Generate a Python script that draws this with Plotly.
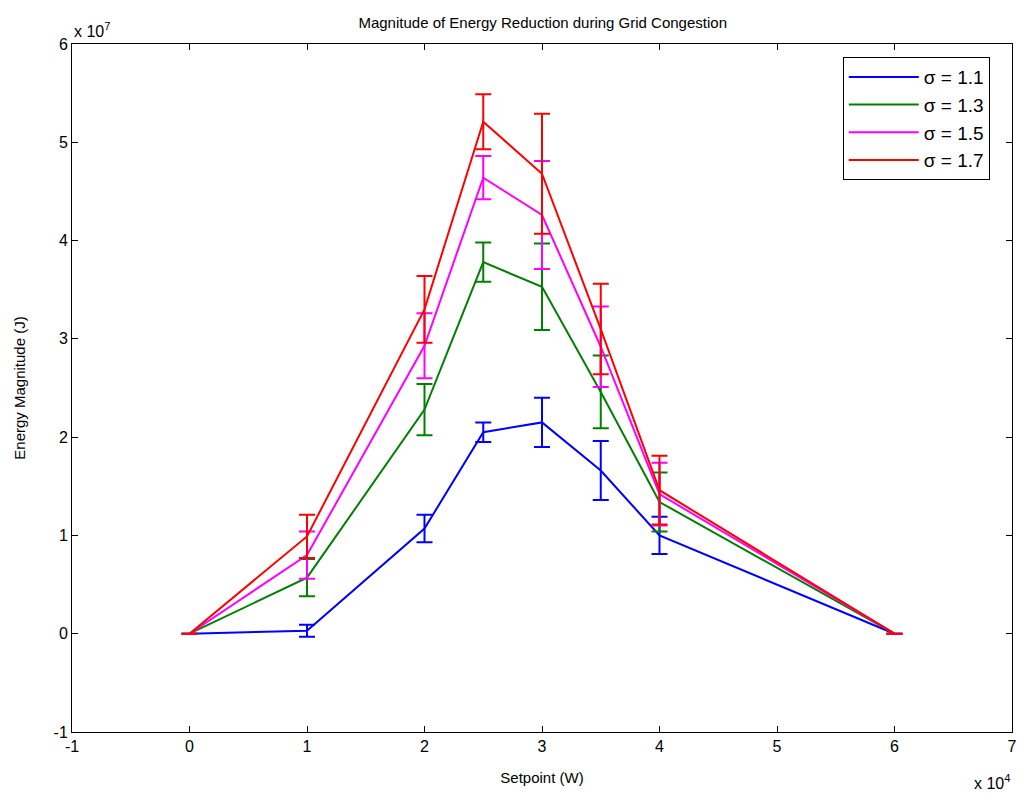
import plotly.graph_objects as go

setpoints = [0, 10000, 20000, 25000, 30000, 35000, 40000, 60000]

series_names = ["σ = 1.1", "σ = 1.3", "σ = 1.5", "σ = 1.7"]
series_colors = ["#0000FF", "#008000", "#FF00FF", "#FF0000"]

mean_11 = [0, 0.03e7, 1.07e7, 2.05e7, 2.15e7, 1.66e7, 1.00e7, 0]
err_11 = [0, 0.06e7, 0.14e7, 0.10e7, 0.25e7, 0.30e7, 0.19e7, 0]

mean_13 = [0, 0.57e7, 2.28e7, 3.78e7, 3.53e7, 2.46e7, 1.34e7, 0]
err_13 = [0, 0.19e7, 0.26e7, 0.20e7, 0.44e7, 0.37e7, 0.30e7, 0]

mean_15 = [0, 0.80e7, 2.93e7, 4.64e7, 4.26e7, 2.92e7, 1.42e7, 0]
err_15 = [0, 0.24e7, 0.33e7, 0.22e7, 0.55e7, 0.41e7, 0.32e7, 0]

mean_17 = [0, 0.99e7, 3.30e7, 5.21e7, 4.68e7, 3.10e7, 1.46e7, 0]
err_17 = [0, 0.22e7, 0.34e7, 0.28e7, 0.61e7, 0.46e7, 0.35e7, 0]

x_ticks = [-10000, 0, 10000, 20000, 30000, 40000, 50000, 60000, 70000]
x_tick_text = ["-1", "0", "1", "2", "3", "4", "5", "6", "7"]
y_ticks = [-1e7, 0, 1e7, 2e7, 3e7, 4e7, 5e7, 6e7]
y_tick_text = ["-1", "0", "1", "2", "3", "4", "5", "6"]

means = [mean_11, mean_13, mean_15, mean_17]
errs = [err_11, err_13, err_15, err_17]

FONT = "Liberation Sans, Arial, sans-serif"

fig = go.Figure()
for name, color, m, e in zip(series_names, series_colors, means, errs):
    fig.add_trace(go.Scatter(
        x=setpoints, y=m, name=name, mode="lines",
        line=dict(color=color, width=2),
        error_y=dict(type="data", array=e, visible=True, color=color,
                     thickness=2, width=8),
    ))

axis_common = dict(
    showgrid=False, zeroline=False, showline=True, linecolor="black",
    linewidth=1, mirror="ticks", ticks="inside", ticklen=6,
    tickcolor="black", tickfont=dict(size=16, color="black", family=FONT),
)

fig.update_layout(
    width=1024, height=801,
    paper_bgcolor="white", plot_bgcolor="white",
    margin=dict(l=72, r=7, t=44, b=69),
    font=dict(family=FONT, color="black"),
    title=dict(text="Magnitude of Energy Reduction during Grid Congestion",
               x=0.53, xanchor="center", y=0.972, yanchor="middle",
               font=dict(size=15, color="black", family=FONT)),
    xaxis=dict(range=[-10000, 70000], tickvals=x_ticks, ticktext=x_tick_text,
               title=dict(text="Setpoint (W)", font=dict(size=15), standoff=18),
               **axis_common),
    yaxis=dict(range=[-1e7, 6e7], tickvals=y_ticks, ticktext=y_tick_text,
               title=dict(text="Energy Magnitude (J)", font=dict(size=15), standoff=24),
               **axis_common),
    legend=dict(x=0.82, y=0.981, xanchor="left", yanchor="top",
                bordercolor="black", borderwidth=1, bgcolor="white",
                font=dict(size=19, color="black", family=FONT),
                entrywidth=162, itemwidth=70, tracegroupgap=0),
    showlegend=True,
    annotations=[
        dict(text="x 10<sup>7</sup>", xref="paper", yref="paper",
             x=0, y=1, xanchor="left", yanchor="bottom", showarrow=False,
             font=dict(size=16, family=FONT, color="black"), xshift=0, yshift=2),
        dict(text="x 10<sup>4</sup>", xref="paper", yref="paper",
             x=1, y=0, xanchor="right", yanchor="top", showarrow=False,
             font=dict(size=16, family=FONT, color="black"), yshift=-38),
    ],
)

fig.write_html("out.html")
